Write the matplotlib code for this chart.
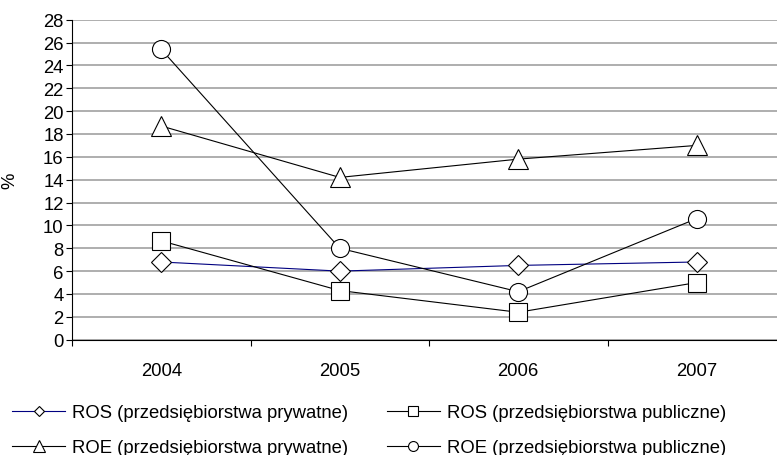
import matplotlib.pyplot as plt
import numpy as np

plt.rcParams["font.family"] = ["Liberation Sans", "DejaVu Sans"]

years = ["2004", "2005", "2006", "2007"]
ros_private = [6.8, 6.0, 6.5, 6.8]
ros_public = [8.65, 4.3, 2.4, 5.0]
roe_private = [18.7, 14.2, 15.8, 17.0]
roe_public = [25.4, 8.0, 4.2, 10.6]

labels = [
    "ROS (przedsiębiorstwa prywatne)",
    "ROS (przedsiębiorstwa publiczne)",
    "ROE (przedsiębiorstwa prywatne)",
    "ROE (przedsiębiorstwa publiczne)",
]

W, H = 777, 456
fig = plt.figure(figsize=(W / 100, H / 100), dpi=100)
# axes run past the right edge, as in the source image
ax = fig.add_axes([72 / W, (H - 340.7) / H, 714 / W, 320 / H])

x = np.arange(len(years)) + 0.5
fs = 13.3
common = dict(markerfacecolor="white", markeredgecolor="black", markeredgewidth=0.8, lw=0.8)

h1, = ax.plot(x, ros_private, color="#000080", marker="D", ms=9.7, label=labels[0], **common)
h2, = ax.plot(x, ros_public, color="black", marker="s", ms=12.5, label=labels[1], **common)
h3, = ax.plot(x, roe_private, color="black", marker="^", ms=14.5, label=labels[2], **common)
h4, = ax.plot(x, roe_public, color="black", marker="o", ms=13, label=labels[3], **common)

ax.set_xlim(0, len(years))
ax.set_ylim(0, 28)
ax.set_yticks(np.arange(0, 29, 2))
ax.yaxis.grid(True, color="#a8a8a8", lw=1.3)
ax.set_axisbelow(True)

ax.set_xticks(np.arange(0, len(years) + 1))
ax.set_xticklabels([])
ax.set_xticks(x, minor=True)
ax.set_xticklabels(years, minor=True)
ax.tick_params(axis="x", which="major", direction="out", length=4, width=0.8)
ax.tick_params(axis="x", which="minor", length=0, pad=16, labelsize=fs)
ax.tick_params(axis="y", direction="out", length=4, width=0.8, pad=2, labelsize=fs)

for s in ["top", "right"]:
    ax.spines[s].set_visible(False)
ax.spines["left"].set_linewidth(0.8)
ax.spines["bottom"].set_linewidth(0.8)

ax.set_ylabel("%", fontsize=fs)
ax.yaxis.set_label_coords((18 - 72) / 714, 0.5)

# column-first fill, so order gives ROS row on top
fig.legend(
    handles=[h1, h3, h2, h4],
    ncol=2,
    loc="upper left",
    bbox_to_anchor=(12 / W, 1 - 405 / H),
    frameon=False,
    fontsize=fs,
    handlelength=2.87,
    handletextpad=0.38,
    columnspacing=2.1,
    labelspacing=1.0,
    borderaxespad=0,
    borderpad=0,
    markerscale=0.55,
)

fig.savefig("out.png", dpi=100)
